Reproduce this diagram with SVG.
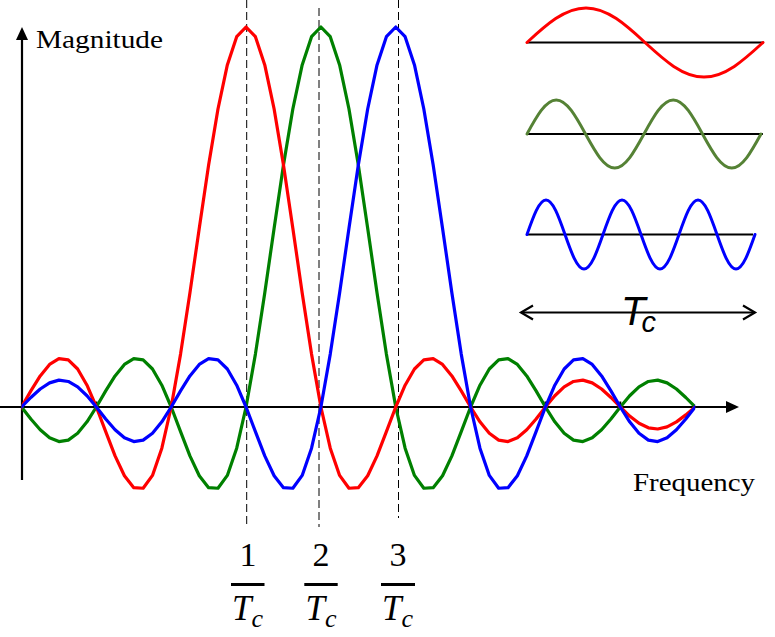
<svg xmlns="http://www.w3.org/2000/svg" xmlns:xlink="http://www.w3.org/1999/xlink" width="775" height="637" viewBox="0 0 775 637">
<style>
.ax{stroke:#000;stroke-width:2.2;fill:none}
.tick{stroke:#000;stroke-width:2;fill:none}
.head{fill:#000;stroke:none}
.dash{stroke:#000;stroke-width:1;stroke-dasharray:8,4;fill:none}
.crv{fill:none;stroke-width:3.2;stroke-linejoin:round;stroke-linecap:round}
.isin{fill:none;stroke-width:3;stroke-linecap:round}
.base{stroke:#000;stroke-width:2.2;fill:none}
.lbl{font-family:"Liberation Serif","Times New Roman",serif;font-size:26px;fill:#000}
.num{font-family:"Liberation Serif","Times New Roman",serif;font-size:34px;fill:#000;text-anchor:middle}
.T{font-family:"Liberation Serif","Times New Roman",serif;font-style:italic;font-size:35px;fill:#000}
.sub{font-size:26px}
.bar{stroke:#000;stroke-width:3}
.tc{font-family:"Liberation Sans",Arial,sans-serif;font-style:italic;fill:#000}
</style>
<defs>
<clipPath id="plotclip"><rect x="21.5" y="0" width="673.65" height="637"/></clipPath>
<path id="sinc" d="M-374.25,0 L-364.89,-9.5 -355.54,-18.01 -346.18,-24.16 -336.83,-26.88 -327.47,-25.54 -318.11,-20.12 -308.76,-11.22 -299.4,0 -290.04,11.95 -280.69,22.81 -271.33,30.83 -261.98,34.56 -252.62,33.11 -243.26,26.32 -233.91,14.81 -224.55,0 -215.19,-16.1 -205.84,-31.1 -196.48,-42.57 -187.13,-48.38 -177.77,-47.05 -168.41,-38.02 -159.06,-21.78 -149.7,0 -140.34,24.69 -130.99,48.88 -121.63,68.77 -112.28,80.64 -102.92,81.27 -93.56,68.42 -84.21,41.15 -74.85,0 -65.49,-52.9 -56.14,-114.04 -46.78,-178.8 -37.43,-241.92 -28.07,-298 -18.71,-342.12 -9.36,-370.31 0,-380 9.36,-370.31 18.71,-342.12 28.07,-298 37.43,-241.92 46.78,-178.8 56.14,-114.04 65.49,-52.9 74.85,0 84.21,41.15 93.56,68.42 102.92,81.27 112.28,80.64 121.63,68.77 130.99,48.88 140.34,24.69 149.7,0 159.06,-21.78 168.41,-38.02 177.77,-47.05 187.13,-48.38 196.48,-42.57 205.84,-31.1 215.19,-16.1 224.55,0 233.91,14.81 243.26,26.32 252.62,33.11 261.98,34.56 271.33,30.83 280.69,22.81 290.04,11.95 299.4,0 308.76,-11.22 318.11,-20.12 327.47,-25.54 336.83,-26.88 346.18,-24.16 355.54,-18.01 364.89,-9.5 374.25,0 383.61,9.03 392.96,16.29 402.32,20.79 411.68,21.99 421.03,19.87 430.39,14.87 439.74,7.88 449.1,0"/>
</defs>
<rect width="775" height="637" fill="#fff"/>

<g id="dashed-lines">
<line class="dash" x1="246.7" y1="0" x2="246.7" y2="525"/>
<line class="dash" x1="319" y1="8" x2="319" y2="527"/>
<line class="dash" x1="398.5" y1="0" x2="398.5" y2="518"/>
</g>

<g id="axes">
<line class="ax" x1="22" y1="480" x2="22" y2="38"/>
<polygon class="head" points="22,27 16,40 28,40"/>
<line class="ax" x1="0" y1="407" x2="728" y2="407"/>
<polygon class="head" points="739,407 726,401 726,413"/>
<path class="tick" d="M96.35,401.5V407 M171.2,401.5V407 M246.05,401.5V407 M320.9,401.5V407 M395.75,401.5V407 M470.6,401.5V407 M545.45,401.5V407 M620.3,401.5V407"/>
<text class="lbl" x="36" y="48" textLength="127" lengthAdjust="spacingAndGlyphs">Magnitude</text>
<text class="lbl" x="633" y="491" textLength="122" lengthAdjust="spacingAndGlyphs">Frequency</text>
</g>

<g id="curves" clip-path="url(#plotclip)">
<use xlink:href="#sinc" href="#sinc" class="crv" stroke="#008000" transform="translate(320.9,407)"/>
<use xlink:href="#sinc" href="#sinc" class="crv" stroke="#ff0000" transform="translate(246.05,407)"/>
<use xlink:href="#sinc" href="#sinc" class="crv" stroke="#0000ff" transform="translate(395.75,407)"/>
</g>

<g id="fractions">
<text class="num" x="248" y="566">1</text>
<line class="bar" x1="231" y1="584.5" x2="264.5" y2="584.5"/>
<text class="T" x="232" y="620">T<tspan class="sub" dy="7">c</tspan></text>

<text class="num" x="321" y="566">2</text>
<line class="bar" x1="304.3" y1="584.5" x2="337.7" y2="584.5"/>
<text class="T" x="305.5" y="620">T<tspan class="sub" dy="7">c</tspan></text>

<text class="num" x="398" y="566">3</text>
<line class="bar" x1="381" y1="584.5" x2="415" y2="584.5"/>
<text class="T" x="382" y="620">T<tspan class="sub" dy="7">c</tspan></text>
</g>

<g id="inset-red">
<line class="base" x1="527" y1="42.5" x2="764" y2="42.5"/>
<path class="isin" stroke="#ff0000" d="M527,42.5 C546.24,24.83 564.65,8 586,8 S625.76,24.83 645,42.5 S682.65,77 704,77 S743.76,60.17 763,42.5"/>
</g>
<g id="inset-green">
<line class="base" x1="527" y1="134" x2="763" y2="134"/>
<path class="isin" stroke="#558235" d="M527,134 C536.54,116.58 545.66,100 556.25,100 S575.96,116.58 585.5,134 S604.16,168 614.75,168 S634.46,151.42 644,134 S662.66,100 673.25,100 S692.96,116.58 702.5,134 S721.16,168 731.75,168 S751.46,151.42 761,134"/>
</g>
<g id="inset-blue">
<line class="base" x1="526" y1="234.5" x2="753" y2="234.5"/>
<path class="isin" stroke="#0000ff" d="M527,234.5 C533.2,216.83 539.12,200 546,200 S558.8,216.83 565,234.5 S577.12,269 584,269 S596.8,252.17 603,234.5 S615.12,200 622,200 S634.8,216.83 641,234.5 S653.12,269 660,269 S672.8,252.17 679,234.5 S691.12,200 698,200 S710.8,216.83 717,234.5 S729.12,269 736,269 S748.8,252.17 755,234.5"/>
</g>

<g id="period-arrow">
<line class="base" x1="521" y1="312.5" x2="755" y2="312.5"/>
<polyline class="base" points="533,305.5 521,312.5 533,319.5"/>
<polyline class="base" points="743,305.5 755,312.5 743,319.5"/>
<text class="tc" x="621" y="325" font-size="40">T<tspan dx="-4" dy="7" font-size="29">c</tspan></text>
</g>
</svg>
